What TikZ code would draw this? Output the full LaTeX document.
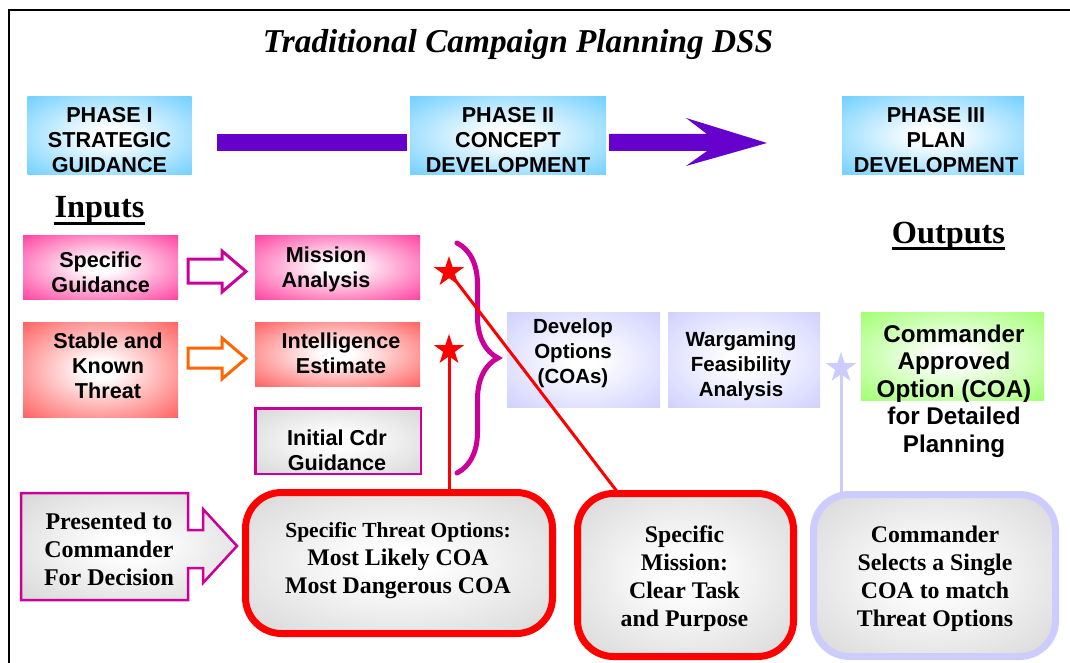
\documentclass[tikz,border=0pt]{standalone}
\usepackage{fontspec}
\setmainfont{Liberation Serif}
\setsansfont{Liberation Sans}
\usetikzlibrary{shapes.geometric,decorations.pathreplacing,calc}

\definecolor{phaseblue}{HTML}{66CCFF}
\definecolor{barpurple}{HTML}{6600CC}
\definecolor{hotpink}{HTML}{FF3399}
\definecolor{threatred}{HTML}{FF5555}
\definecolor{magenta2}{HTML}{CC0099}
\definecolor{arroworange}{HTML}{FF6600}
\definecolor{lavender}{HTML}{CCCCFF}
\definecolor{approvegreen}{HTML}{99FF66}
\definecolor{softgrey}{HTML}{D4D4D4}
\definecolor{alertred}{HTML}{FF0000}
\colorlet{glowin}{white}
\colorlet{glowout}{softgrey}
% centre-lit fill: pale middle, full colour towards the edges
\pgfdeclareradialshading[glowin,glowout]{boxglow}{\pgfpoint{0bp}{0bp}}{color(0bp)=(glowin); color(5bp)=(glowin); color(38bp)=(glowout); color(50bp)=(glowout)}

\tikzset{
  glow/.style 2 args={/utils/exec={\colorlet{glowin}{#1}\colorlet{glowout}{#2}}, shading=boxglow, shade},
  card/.style={rectangle, inner sep=0, outer sep=0},
  sanslabel/.style={align=center, inner sep=0, font=\sffamily\bfseries\fontsize{21.6}{25}\selectfont},
  seriflabel/.style={align=center, inner sep=0, font=\bfseries\fontsize{23.8}{28}\selectfont},
  heading/.style={inner sep=0, font=\bfseries\fontsize{32.3}{36}\selectfont},
  bubble/.style={rectangle, rounded corners=36, line width=7, outer sep=0, glow={white}{softgrey}},
  starmark/.style={star, star points=5, star point ratio=2.6, minimum size=32, inner sep=0},
  blockarrow/.style={line width=3, fill=white, line join=miter},
  link/.style={line width=3},
}

\begin{document}
\begin{tikzpicture}[x=1pt,y=-1pt]
\useasboundingbox (0,0) rectangle (1070,663);

% frame
\coordinate (fbl) at (9,664);
\coordinate (ftl) at (9,10);
\coordinate (ftr) at (1071,10);
\draw[line width=2.5] (fbl) -- (ftl) -- (ftr);

% title
\node[anchor=base, inner sep=0, font=\bfseries\itshape\fontsize{33.3}{38}\selectfont] (title) at (518,53) {Traditional Campaign Planning DSS};

% phases
\node[card, glow={white}{phaseblue}, minimum width=164, minimum height=78] (p1) at (109.5,135.5) {};
\node[sanslabel] (p1t) at (109.5,140) {PHASE I\\STRATEGIC\\GUIDANCE};
\node[card, glow={white}{phaseblue}, minimum width=196, minimum height=78] (p2) at (508,135.5) {};
\node[sanslabel] (p2t) at (508,140) {PHASE II\\CONCEPT\\DEVELOPMENT};
\node[card, glow={white}{phaseblue}, minimum width=182, minimum height=78] (p3) at (933,135.5) {};
\node[sanslabel] (p3t) at (936,140) {PHASE III\\PLAN\\DEVELOPMENT};

% phase progression bar and arrow
\fill[barpurple] ($(p1.east)+(25.5,-1.5)$) rectangle ($(p2.west)+(-3,15.5)$);
\fill[barpurple] ($(p2.east)+(3,-1.5)$) -- ++(98,0) -- ++(-21,-16) -- ++(81,25)
  -- ++(-81,23) -- ++(21,-15) -- ++(-98,0) -- cycle;

% section headings
\node[heading, anchor=base] (inputs) at (99.5,218) {Inputs};
\draw[line width=3] ($(inputs.base west)+(0,5)$) -- ($(inputs.base east)+(0,5)$);
\node[heading, anchor=base] (outputs) at (948.5,243) {Outputs};
\draw[line width=3] ($(outputs.base west)+(0,5.5)$) -- ($(outputs.base east)+(0,5.5)$);

% inputs
\node[card, glow={white}{hotpink}, minimum width=155, minimum height=64] (sg) at (100.5,267) {};
\node[sanslabel] (sgt) at (100.7,272) {Specific\\Guidance};
\node[card, glow={white}{hotpink}, minimum width=165, minimum height=64] (ma) at (337.5,267) {};
\node[sanslabel] (mat) at (326,269) {Mission\\Analysis};
\node[card, glow={white}{threatred}, minimum width=155, minimum height=95] (kt) at (100.5,369.5) {};
\node[sanslabel] (ktt) at (108,365.5) {Stable and\\Known\\Threat};
\node[card, glow={white}{threatred}, minimum width=165, minimum height=64] (ie) at (337.5,354) {};
\node[sanslabel] (iet) at (341,353.5) {Intelligence\\Estimate};
\node[card, draw=magenta2, line width=2.5, glow={white}{softgrey}, minimum width=165.5, minimum height=65.5] (cg) at (338,441) {};
\node[sanslabel] (cgt) at (337,450) {Initial Cdr\\Guidance};

% hollow block arrows
\draw[blockarrow, draw=magenta2] ($(sg.east)+(10,-8)$) -- ++(34,0) -- ++(0,-8) -- ++(24,20.5)
  -- ++(-24,20.5) -- ++(0,-9) -- ++(-34,0) -- cycle;
\draw[blockarrow, draw=arroworange] ($(kt.east)+(10,-21.5)$) -- ++(34,0) -- ++(0,-10) -- ++(24,20.5)
  -- ++(-24,20.5) -- ++(0,-11) -- ++(-34,0) -- cycle;

% concept development
\node[card, glow={white}{lavender}, minimum width=153, minimum height=95] (dev) at (583.5,359.5) {};
\node[sanslabel, font=\sffamily\bfseries\fontsize{20.5}{25}\selectfont] (devt) at (573,353) {Develop\\Options\\(COAs)};
\node[card, glow={white}{lavender}, minimum width=152, minimum height=95] (war) at (744,359.5) {};
\node[sanslabel, font=\sffamily\bfseries\fontsize{20.5}{25}\selectfont] (wart) at (741,366) {Wargaming\\Feasibility\\Analysis};

% output
\node[card, glow={white}{approvegreen}, minimum width=183, minimum height=88] (apr) at (952.5,356) {};
\node[sanslabel, font=\sffamily\bfseries\fontsize{24.2}{27.5}\selectfont] (aprt) at (954,391) {Commander\\Approved\\Option (COA)\\for Detailed\\Planning};

% decision arrow box
\draw[draw=magenta2, line width=2.5, line join=miter, glow={white}{softgrey}] (21,493) -- (188,493) -- (188,530) -- (203,530)
  -- (203,509) -- (237,546) -- (203,583) -- (203,568) -- (188,568) -- (188,600) -- (21,600) -- cycle;
\node[seriflabel, font=\bfseries\fontsize{24}{28}\selectfont] (pres) at (109,549) {Presented to\\Commander\\For Decision};

% result bubbles
\node[bubble, draw=alertred, minimum width=307, minimum height=141] (threat) at (399,563) {};
\node[seriflabel] (threatt) at (398,561) {{\fontsize{21.5}{28}\selectfont Specific Threat Options:}\\Most Likely COA\\Most Dangerous COA};
\node[bubble, draw=alertred, minimum width=216, minimum height=163] (mis) at (685.5,575) {};
\node[seriflabel] (mist) at (684.5,579) {Specific\\Mission:\\Clear Task\\and Purpose};
\node[bubble, draw=lavender, minimum width=242, minimum height=162] (sel) at (934.5,575.5) {};
\node[seriflabel] (selt) at (935,579) {Commander\\Selects a Single\\COA to match\\Threat Options};

% brace grouping the inputs
\coordinate (btop) at (457,243);
\coordinate (bbot) at (457,473);
\draw[draw=magenta2, line width=5, line cap=round, decorate, decoration={brace, amplitude=41pt}] (btop) -- (bbot);

% markers and their links
\node[starmark, fill=alertred] (s1) at (449,272) {};
\node[starmark, fill=alertred] (s2) at (449,350) {};
\node[starmark, fill=lavender] (s3) at (841,368) {};
\coordinate (mtop) at ($(mis.north west)!0.19!(mis.north east)$);
\draw[link, alertred] (s2.center) -- (s2.center |- threat.north);
\draw[link, alertred] (s1.center) -- (mtop);
\draw[link, lavender] (s3.center) -- (s3.center |- sel.north);
\end{tikzpicture}
\end{document}
